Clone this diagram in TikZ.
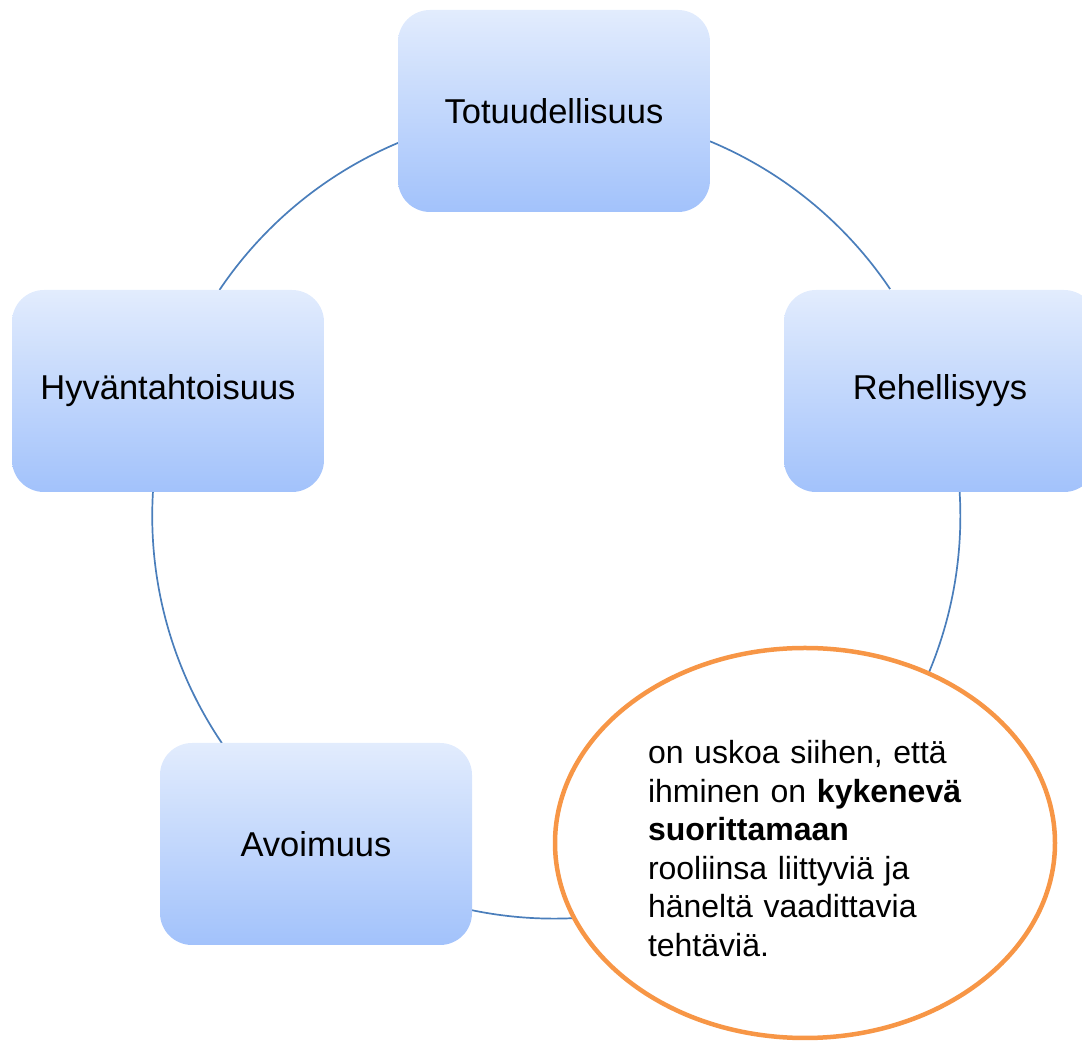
\documentclass[tikz,border=0pt]{standalone}
\usepackage{fontspec}
\setmainfont{Liberation Sans}
\usetikzlibrary{shapes.geometric,backgrounds}
\definecolor{boxtop}{HTML}{E2ECFD}
\definecolor{boxbot}{HTML}{A2C2FB}
\definecolor{arcblue}{HTML}{4A7EBB}
\definecolor{ellorange}{HTML}{F79646}
\begin{document}
\begin{tikzpicture}[x=1pt,y=1pt,
  item/.style={rectangle, rounded corners=32pt, minimum width=312pt, minimum height=202pt,
    inner sep=0pt, outer sep=0pt, top color=boxtop, bottom color=boxbot,
    font=\fontsize{34.5}{41}\selectfont},
  note/.style={ellipse, draw=ellorange, line width=4.5pt, fill=white,
    minimum width=500pt, minimum height=390pt, inner sep=0pt, outer sep=0pt,
    text width=314pt, align=left, font=\fontsize{32}{38.5}\selectfont},
  link/.style={draw=arcblue, line width=1.7pt}]
\path[use as bounding box] (0,0) rectangle (1082,1041);
\clip (0,0) rectangle (1082,1041);

\node[item] (t) at (554,930) {Totuudellisuus};
\node[item] (r) at (940,650) {Rehellisyys};
\node[item] (h) at (168,650) {Hyväntahtoisuus};
\node[item] (a) at (316,197) {Avoimuus};
\node[note] (e) at (805,198) {\rule{0pt}{34pt}on uskoa siihen, että\\
ihminen on \textbf{kykenevä}\\
\textbf{suorittamaan}\\
rooliinsa liittyviä ja\\
häneltä vaadittavia\\
tehtäviä.};

\begin{scope}[on background layer]
\draw[link] (t.-11.31) arc[start angle=67.35, end angle=33.92, radius=405pt];
\draw[link] (r.-79.73) arc[start angle=3.40, end angle=-25, radius=405pt];
\draw[link] (a.-23.74) arc[start angle=-101.68, end angle=-85, radius=405pt];
\draw[link] (a.133.96) arc[start angle=214.09, end angle=176.60, radius=405pt];
\draw[link] (h.63.66) arc[start angle=146.08, end angle=112.65, radius=405pt];
\end{scope}
\end{tikzpicture}
\end{document}
